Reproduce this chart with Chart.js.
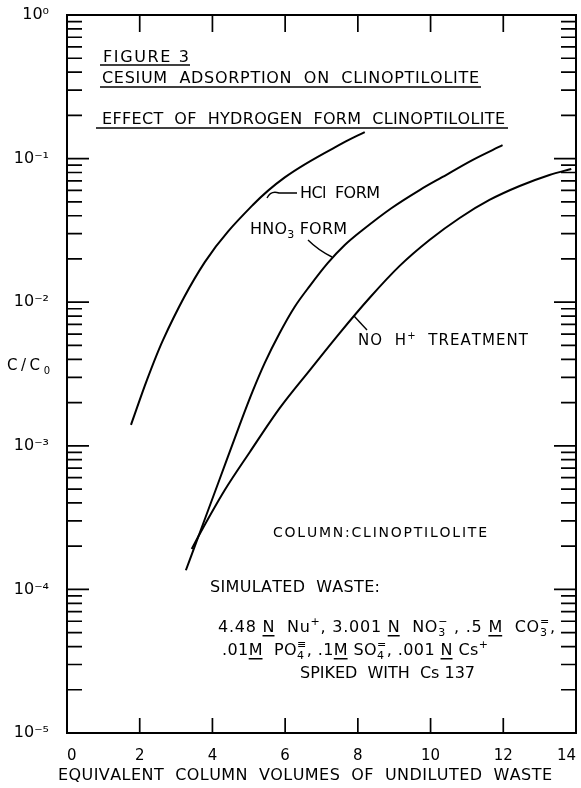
<!DOCTYPE html>
<html><head><meta charset="utf-8">
<script src="https://cdn.jsdelivr.net/npm/chart.js@4.4.1/dist/chart.umd.min.js"></script>
<style>html,body{margin:0;padding:0;background:#fff;}canvas{display:block;}</style>
</head><body>
<canvas id="c" width="581" height="788"></canvas>
<script>
// ---- data ----
const xTickValues = [0, 2, 4, 6, 8, 10, 12, 14];
const xTickLabels = ['0', '2', '4', '6', '8', '10', '12', '14'];
const yTickValues = [1e-5, 1e-4, 1e-3, 1e-2, 1e-1, 1];
const yTickLabels = ['10⁻⁵', '10⁻⁴', '10⁻³', '10⁻²', '10⁻¹', '10⁰'];
const yMinorMult = [2, 3, 4, 5, 6, 7, 8, 9];

const hclX = [1.76, 2.20, 2.64, 3.79, 5.11, 5.99, 7.58, 8.19];
const hclY = [1.40e-3, 2.88e-3, 5.45e-3, 1.9e-2, 4.75e-2, 7.4e-2, 0.128, 0.153];

const hno3X = [3.27, 3.65, 4.20, 4.75, 5.11, 5.44, 5.85, 6.26, 6.68, 7.17, 7.64, 8.13, 8.93, 9.70, 10.33, 11.15, 11.98];
const hno3Y = [1.36e-4, 2.47e-4, 5.87e-4, 1.40e-3, 2.41e-3, 3.78e-3, 6.1e-3, 9.26e-3, 1.30e-2, 1.87e-2, 2.50e-2, 3.18e-2, 4.53e-2, 6.04e-2, 7.45e-2, 9.77e-2, 0.124];

const noHX = [3.43, 3.65, 4.34, 5.03, 5.85, 6.68, 7.50, 8.32, 9.15, 9.97, 10.80, 11.62, 12.45, 13.27, 13.87];
const noHY = [1.91e-4, 2.43e-4, 4.92e-4, 9.06e-4, 1.83e-3, 3.37e-3, 6.1e-3, 1.07e-2, 1.79e-2, 2.71e-2, 3.86e-2, 5.15e-2, 6.44e-2, 7.69e-2, 8.47e-2];

const FONT = '"DejaVu Sans", sans-serif';

function pts(xs, ys) { return xs.map((x, i) => ({ x: x, y: ys[i] })); }
function series(label, xs, ys) {
  return { label: label, data: pts(xs, ys), borderColor: '#000', borderWidth: 2,
    pointRadius: 0, fill: false, cubicInterpolationMode: 'monotone' };
}

// ---- rich text helper (sub/superscripts, underlines) ----
function drawRich(ctx, pieces, x, y, size, targetW) {
  const base = size + 'px ' + FONT;
  const small = Math.round(size * 0.68) + 'px ' + FONT;
  const units = [];
  for (const p of pieces) {
    if (typeof p === 'string') { ctx.font = base; for (const ch of p) units.push({ ch: ch, w: ctx.measureText(ch).width }); }
    else if (p.u) { ctx.font = base; for (const ch of p.u) units.push({ ch: ch, w: ctx.measureText(ch).width, u: true }); }
    else {
      ctx.font = small;
      const w = Math.max(p.sub ? ctx.measureText(p.sub).width : 0, p.sup ? ctx.measureText(p.sup).width : 0);
      units.push({ sub: p.sub, sup: p.sup, w: w });
    }
  }
  const nat = units.reduce((a, u) => a + u.w, 0);
  const sp = targetW ? (targetW - nat) / (units.length - 1) : 0;
  let cx = x;
  ctx.textBaseline = 'alphabetic'; ctx.textAlign = 'left'; ctx.fillStyle = '#000';
  for (const u of units) {
    if (u.ch !== undefined) {
      ctx.font = base; ctx.fillText(u.ch, cx, y);
      if (u.u) ctx.fillRect(cx, y + 3, u.w, 1.5);
    } else {
      ctx.font = small;
      if (u.sup) ctx.fillText(u.sup, cx, y - size * 0.42);
      if (u.sub) ctx.fillText(u.sub, cx, y + size * 0.28);
    }
    cx += u.w + sp;
  }
}

const texts = [
  { p: ['FIGURE 3'], x: 103, y: 62, s: 16, w: 86 },
  { p: ['CESIUM  ADSORPTION  ON  CLINOPTILOLITE'], x: 102, y: 83, s: 16, w: 377 },
  { p: ['EFFECT  OF  HYDROGEN  FORM  CLINOPTILOLITE'], x: 102, y: 124, s: 16, w: 403 },
  { p: ['HCl  FORM'], x: 300, y: 198, s: 16, w: 80 },
  { p: ['HNO', { sub: '3' }, ' FORM'], x: 250, y: 234, s: 16, w: 97 },
  { p: ['NO  H', { sup: '+' }, '  TREATMENT'], x: 358, y: 345, s: 15, w: 170 },
  { p: ['C/C', { sub: '0' }], x: 7, y: 370, s: 15, w: 43 },
  { p: ['COLUMN:CLINOPTILOLITE'], x: 273, y: 537, s: 14, w: 214 },
  { p: ['SIMULATED  WASTE:'], x: 210, y: 592, s: 16, w: 170 },
  { p: ['4.48 ', { u: 'N' }, '  Nu', { sup: '+' }, ', 3.001 ', { u: 'N' }, '  NO', { sub: '3', sup: '−' }, ' , .5 ', { u: 'M' }, '  CO', { sub: '3', sup: '=' }, ','], x: 218, y: 632, s: 16, w: 337 },
  { p: ['.01', { u: 'M' }, '  PO', { sub: '4', sup: '≡' }, ', .1', { u: 'M' }, ' SO', { sub: '4', sup: '=' }, ', .001 ', { u: 'N' }, ' Cs', { sup: '+' }], x: 222, y: 655, s: 16, w: 266 },
  { p: ['SPIKED  WITH  Cs 137'], x: 300, y: 678, s: 16, w: 175 },
  { p: ['EQUIVALENT  COLUMN  VOLUMES  OF  UNDILUTED  WASTE'], x: 58, y: 780, s: 16, w: 494 }
];
const underlines = [[100, 65, 190], [100, 87, 481], [96, 128, 508]];

const decor = {
  id: 'decor',
  beforeDraw(chart) {
    const c = chart.ctx; c.save(); c.fillStyle = '#fff'; c.fillRect(0, 0, chart.width, chart.height); c.restore();
  },
  afterDraw(chart) {
    const ctx = chart.ctx, a = chart.chartArea, xs = chart.scales.x, ys = chart.scales.y;
    ctx.save();
    ctx.strokeStyle = '#000'; ctx.lineWidth = 2; ctx.lineCap = 'butt';
    ctx.strokeRect(a.left, a.top, a.right - a.left, a.bottom - a.top);
    ctx.lineWidth = 1.7;
    // y ticks (inward, both sides)
    for (let e = -5; e <= 0; e++) {
      const major = Math.pow(10, e);
      const ym = ys.getPixelForValue(major);
      ctx.beginPath();
      ctx.moveTo(a.left, ym); ctx.lineTo(a.left + 22, ym);
      ctx.moveTo(a.right, ym); ctx.lineTo(a.right - 22, ym);
      ctx.stroke();
      if (e === 0) continue;
      for (const m of yMinorMult) {
        const yp = ys.getPixelForValue(m * major);
        ctx.beginPath();
        ctx.moveTo(a.left, yp); ctx.lineTo(a.left + 15, yp);
        ctx.moveTo(a.right, yp); ctx.lineTo(a.right - 15, yp);
        ctx.stroke();
      }
    }
    // x ticks (inward, top and bottom)
    for (const v of xTickValues) {
      if (v === xs.min || v === xs.max) continue;
      const xp = xs.getPixelForValue(v);
      ctx.beginPath();
      ctx.moveTo(xp, a.bottom); ctx.lineTo(xp, a.bottom - 15);
      ctx.moveTo(xp, a.top); ctx.lineTo(xp, a.top + 17);
      ctx.stroke();
    }
    // title underlines
    ctx.lineWidth = 1.7;
    for (const u of underlines) { ctx.beginPath(); ctx.moveTo(u[0], u[1]); ctx.lineTo(u[2], u[1]); ctx.stroke(); }
    // leader lines
    ctx.lineWidth = 1.4;
    ctx.beginPath(); ctx.moveTo(267, 198); ctx.quadraticCurveTo(271, 190, 279, 193); ctx.lineTo(297, 193); ctx.stroke();
    ctx.beginPath(); ctx.moveTo(308, 240); ctx.quadraticCurveTo(318, 250, 332, 257); ctx.stroke();
    ctx.beginPath(); ctx.moveTo(354, 316); ctx.lineTo(367, 330); ctx.stroke();
    // texts
    for (const t of texts) drawRich(ctx, t.p, t.x, t.y, t.s, t.w);
    ctx.restore();
  }
};

new Chart(document.getElementById('c'), {
  type: 'line',
  data: { datasets: [
    series('HCl FORM', hclX, hclY),
    series('HNO3 FORM', hno3X, hno3Y),
    series('NO H+ TREATMENT', noHX, noHY)
  ] },
  options: {
    responsive: false, animation: false, devicePixelRatio: 1,
    layout: { padding: { top: 15, right: 5, left: 0, bottom: 0 } },
    plugins: { legend: { display: false }, tooltip: { enabled: false } },
    scales: {
      x: {
        type: 'linear', min: 0, max: 14, position: 'bottom',
        afterBuildTicks: s => { s.ticks = xTickValues.map(v => ({ value: v })); },
        ticks: { callback: v => xTickLabels[xTickValues.indexOf(v)], font: { family: FONT, size: 15 }, color: '#000', padding: 6, maxRotation: 0, autoSkip: false, align: 'inner' },
        grid: { display: false }, border: { display: false },
        afterFit: s => { s.height = 55; s.paddingLeft = 0; s.paddingRight = 0; }
      },
      y: {
        type: 'logarithmic', min: 1e-5, max: 1, position: 'left',
        afterBuildTicks: s => { s.ticks = yTickValues.map(v => ({ value: v })); },
        ticks: { callback: v => { const i = yTickValues.findIndex(t => Math.abs(Math.log10(t) - Math.log10(v)) < 1e-6); return i >= 0 ? yTickLabels[i] : ''; },
          font: { family: FONT, size: 16 }, color: '#000', padding: 10, autoSkip: false },
        grid: { display: false }, border: { display: false },
        afterFit: s => { s.width = 67; s.paddingTop = 0; s.paddingBottom = 0; }
      }
    }
  },
  plugins: [decor]
});
</script>
</body></html>
